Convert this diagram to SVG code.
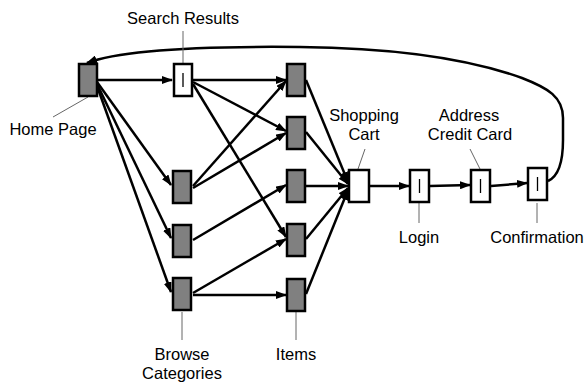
<svg xmlns="http://www.w3.org/2000/svg" width="584" height="383" viewBox="0 0 584 383">
<style>
.g{fill:#808080;stroke:#000;stroke-width:2.5}
.w{fill:#fff;stroke:#000;stroke-width:2.5}
.bar{stroke:#000;stroke-width:1.3}
.e{fill:none;stroke:#000;stroke-width:2.5;marker-end:url(#ah)}
.ld{stroke:#666;stroke-width:1}
text{font-family:"Liberation Sans",Arial,sans-serif;font-size:16.5px;fill:#000;text-anchor:middle}
</style>
<defs>
<marker id="ah" markerUnits="userSpaceOnUse" markerWidth="11" markerHeight="8" refX="10" refY="4" orient="auto">
<path d="M0,0 L11,4 L0,8 z" fill="#000"/>
</marker>
</defs>
<rect width="584" height="383" fill="#fff"/>
<g id="connectors">
<line class="e" x1="97" y1="80" x2="172" y2="80"/>
<line class="e" x1="97" y1="82" x2="171" y2="185"/>
<line class="e" x1="97" y1="84" x2="171" y2="238"/>
<line class="e" x1="97" y1="86" x2="171" y2="292"/>
<line class="e" x1="193" y1="80" x2="286" y2="80"/>
<line class="e" x1="193" y1="82" x2="286" y2="131"/>
<line class="e" x1="193" y1="84" x2="286" y2="237"/>
<line class="e" x1="193" y1="186" x2="286" y2="81"/>
<line class="e" x1="193" y1="188" x2="286" y2="133"/>
<line class="e" x1="193" y1="240" x2="286" y2="185"/>
<line class="e" x1="193" y1="293" x2="286" y2="239"/>
<line class="e" x1="193" y1="295" x2="286" y2="295"/>
<line class="e" x1="306" y1="80" x2="348" y2="182"/>
<line class="e" x1="306" y1="132" x2="348" y2="184"/>
<line class="e" x1="306" y1="186" x2="348" y2="186"/>
<line class="e" x1="306" y1="239" x2="348" y2="188"/>
<line class="e" x1="306" y1="294" x2="348" y2="190"/>
<line class="e" x1="370" y1="186" x2="409" y2="186"/>
<line class="e" x1="430" y1="186" x2="470" y2="185"/>
<line class="e" x1="491" y1="186" x2="527" y2="183"/>
<path class="e" d="M548,181 C557,177 563,165 563,140 L563,118 C563,97 548,88 522,78 C472,60 400,48 300,47 C200,46 120,50 87,63"/>
<line class="ld" x1="183" y1="31" x2="183" y2="63"/>
<line class="ld" x1="53" y1="117" x2="88" y2="97"/>
<line class="ld" x1="365" y1="149" x2="358" y2="169"/>
<line class="ld" x1="470" y1="149" x2="480" y2="169"/>
<line class="ld" x1="419" y1="203" x2="419" y2="223"/>
<line class="ld" x1="537" y1="203" x2="537" y2="223"/>
<line class="ld" x1="182" y1="312" x2="182" y2="340"/>
<line class="ld" x1="296" y1="312" x2="296" y2="340"/>
</g>
<g id="home"><rect class="g" x="79" y="64" width="18" height="32"/><text x="53" y="135">Home Page</text></g>
<g id="search"><rect class="w" x="174" y="64" width="18" height="32"/><line class="bar" x1="183" y1="73" x2="183" y2="87"/><text x="183" y="24">Search Results</text></g>
<g id="browse1"><rect class="g" x="173" y="171" width="18" height="32"/></g>
<g id="browse2"><rect class="g" x="173" y="225" width="18" height="32"/></g>
<g id="browse3"><rect class="g" x="173" y="278" width="18" height="32"/><text x="182" y="360">Browse</text><text x="182" y="379">Categories</text></g>
<g id="item1"><rect class="g" x="287" y="64" width="18" height="32"/></g>
<g id="item2"><rect class="g" x="287" y="117" width="18" height="32"/></g>
<g id="item3"><rect class="g" x="287" y="170" width="18" height="32"/></g>
<g id="item4"><rect class="g" x="287" y="224" width="18" height="32"/></g>
<g id="item5"><rect class="g" x="287" y="279" width="18" height="32"/><text x="296" y="360">Items</text></g>
<g id="cart"><rect class="w" x="349" y="170" width="20" height="32"/><text x="364" y="121">Shopping</text><text x="364" y="140">Cart</text></g>
<g id="login"><rect class="w" x="410" y="170" width="19" height="32"/><line class="bar" x1="419.5" y1="179" x2="419.5" y2="193"/><text x="419" y="243">Login</text></g>
<g id="address"><rect class="w" x="471" y="170" width="19" height="32"/><line class="bar" x1="480.5" y1="179" x2="480.5" y2="193"/><text x="469" y="121">Address</text><text x="470" y="140">Credit Card</text></g>
<g id="confirmation"><rect class="w" x="528" y="168" width="19" height="32"/><line class="bar" x1="537.5" y1="177" x2="537.5" y2="191"/><text x="537" y="243">Confirmation</text></g>
</svg>
